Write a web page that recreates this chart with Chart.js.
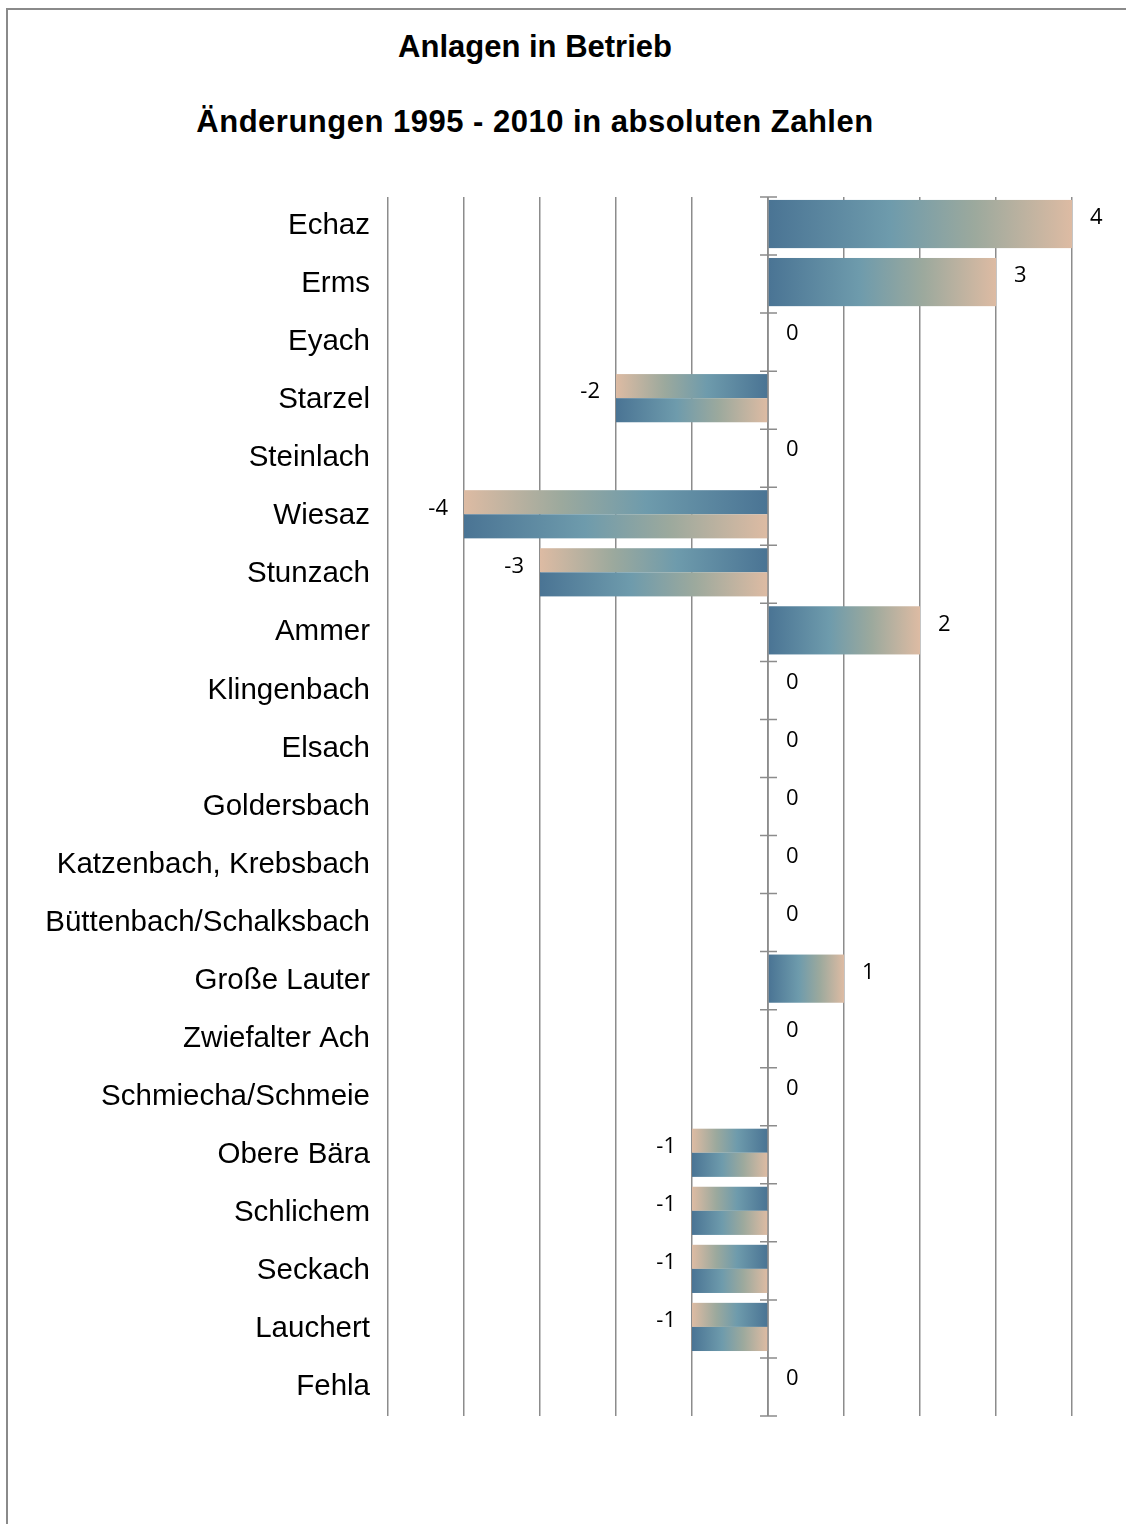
<!DOCTYPE html>
<html>
<head>
<meta charset="utf-8">
<script src="https://cdn.jsdelivr.net/npm/chart.js@4"></script>
<style>
body { margin: 0; background: #fff; }
#wrap { position: relative; width: 1126px; height: 1524px; overflow: hidden; }
#frame { position: absolute; left: 6px; top: 8px; width: 1300px; height: 1700px; border-left: 2px solid #8a8a8a; border-top: 2px solid #8a8a8a; }
.title { position: absolute; left: 0; width: 1070px; text-align: center; font: bold 31px/31px "Liberation Sans", Arial, sans-serif; color: #000; }
canvas { position: absolute; left: 0; top: 0; }
</style>
</head>
<body>
<div id="wrap">
  <div id="frame"></div>
  <div class="title" style="top:31px">Anlagen in Betrieb</div>
  <div class="title" style="top:106px; letter-spacing:0.5px">Änderungen 1995 - 2010 in absoluten Zahlen</div>
  <canvas id="chart" width="1126" height="1524"></canvas>
</div>
<script>
const rivers = ['Echaz', 'Erms', 'Eyach', 'Starzel', 'Steinlach', 'Wiesaz', 'Stunzach', 'Ammer',
  'Klingenbach', 'Elsach', 'Goldersbach', 'Katzenbach, Krebsbach', 'Büttenbach/Schalksbach',
  'Große Lauter', 'Zwiefalter Ach', 'Schmiecha/Schmeie', 'Obere Bära', 'Schlichem', 'Seckach',
  'Lauchert', 'Fehla']
const changes = [4, 3, 0, -2, 0, -4, -3, 2, 0, 0, 0, 0, 0, 1, 0, 0, -1, -1, -1, -1, 0]
const xMin = -5
const xMax = 4

const BLUE = '#4a7494'
const TEAL = '#6e9bac'
const GREY = '#9ca99d'
const PEACH = '#ddbba3'

function barGradient(ctx, from, to) {
  const g = ctx.createLinearGradient(from, 0, to, 0)
  g.addColorStop(0, BLUE)
  g.addColorStop(0.4, TEAL)
  g.addColorStop(0.68, GREY)
  g.addColorStop(1, PEACH)
  return g
}

// zero line with little crossing ticks between the rivers
const zeroAxis = {
  id: 'zeroAxis',
  beforeDatasetsDraw(chart) {
    const ctx = chart.ctx
    const area = chart.chartArea
    const x0 = chart.scales.x.getPixelForValue(0)
    ctx.save()
    ctx.strokeStyle = '#8c8c8c'
    ctx.lineWidth = 1.5
    ctx.beginPath()
    ctx.moveTo(x0, area.top)
    ctx.lineTo(x0, area.bottom)
    for (let i = 0; i <= rivers.length; i++) {
      const y = chart.scales.y.getPixelForValue(i - 0.5)
      ctx.moveTo(x0 - 8, y)
      ctx.lineTo(x0 + 9, y)
    }
    ctx.stroke()
    ctx.restore()
  }
}

// bars: blue->peach, negative bars get a mirrored upper half
const gradientBars = {
  id: 'gradientBars',
  beforeDatasetDraw(chart, args) {
    const ctx = chart.ctx
    ctx.save()
    args.meta.data.forEach((bar, i) => {
      const { x, y, base, height } = bar.getProps(['x', 'y', 'base', 'height'], true)
      if (x === base) return
      const left = Math.min(x, base)
      const right = Math.max(x, base)
      const top = y - height / 2 - 2
      const half = height / 2
      if (changes[i] > 0) {
        ctx.fillStyle = barGradient(ctx, left, right)
        ctx.fillRect(left, top, right - left, height)
      } else {
        ctx.fillStyle = barGradient(ctx, right, left)
        ctx.fillRect(left, top, right - left, half)
        ctx.fillStyle = barGradient(ctx, left, right)
        ctx.fillRect(left, top + half, right - left, half)
      }
    })
    ctx.restore()
    return false
  }
}

const valueLabels = {
  id: 'valueLabels',
  afterDatasetsDraw(chart) {
    const ctx = chart.ctx
    const meta = chart.getDatasetMeta(0)
    ctx.save()
    ctx.font = '22px "Open Sans", sans-serif'
    ctx.fillStyle = '#000'
    ctx.textBaseline = 'middle'
    meta.data.forEach((bar, i) => {
      const { x, y } = bar.getProps(['x', 'y'], true)
      const v = changes[i]
      if (v < 0) {
        ctx.textAlign = 'right'
        ctx.fillText(String(v), x - 16, y - 8)
      } else {
        ctx.textAlign = 'left'
        ctx.fillText(String(v), x + 18, y - 8)
      }
    })
    ctx.restore()
  }
}

new Chart(document.getElementById('chart'), {
  type: 'bar',
  data: {
    labels: rivers,
    datasets: [{
      data: changes,
      backgroundColor: BLUE,
      borderWidth: 0,
      barPercentage: 0.83,
      categoryPercentage: 1
    }]
  },
  options: {
    indexAxis: 'y',
    responsive: false,
    animation: false,
    layout: { padding: { top: 197, bottom: 108, right: 54, left: 0 } },
    plugins: {
      legend: { display: false },
      tooltip: { enabled: false },
      title: { display: false }
    },
    scales: {
      x: {
        min: xMin,
        max: xMax,
        ticks: { display: false, stepSize: 1 },
        grid: { color: '#8c8c8c', lineWidth: 1.5, drawTicks: false },
        border: { display: false },
        afterFit(s) { s.height = 0 }
      },
      y: {
        ticks: {
          font: { family: '"Liberation Sans", Arial, sans-serif', size: 29.5 },
          color: '#000',
          padding: 10
        },
        grid: { display: false },
        border: { display: false },
        afterFit(s) { s.width = 388 }
      }
    }
  },
  plugins: [zeroAxis, gradientBars, valueLabels]
})
</script>
</body>
</html>
